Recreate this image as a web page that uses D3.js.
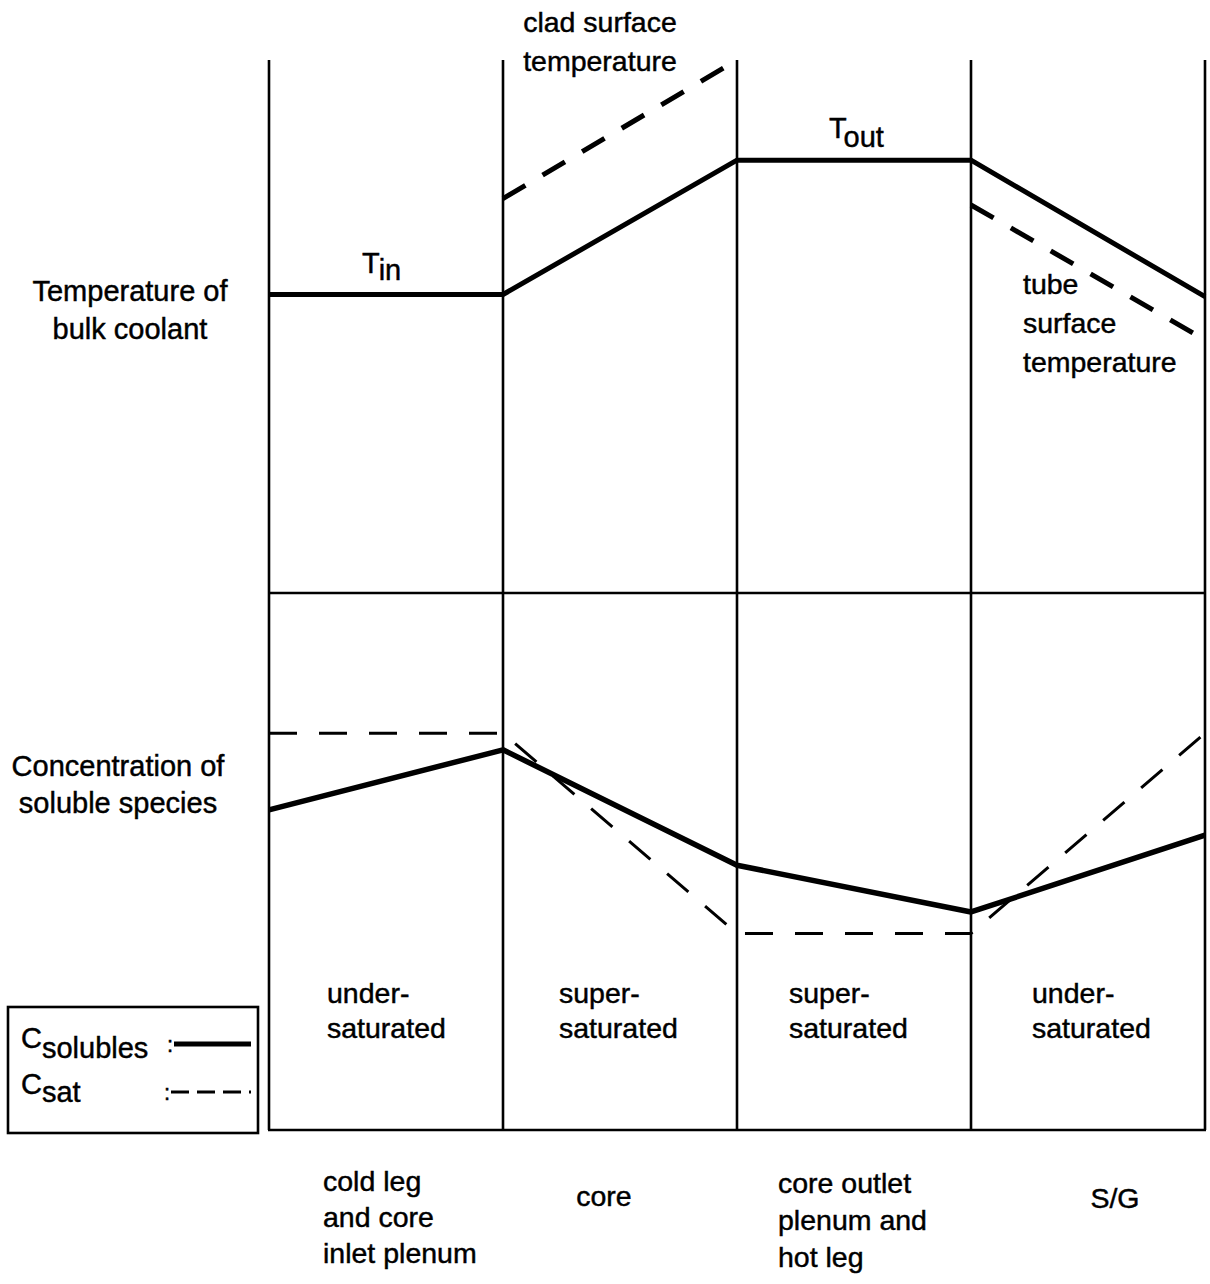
<!DOCTYPE html>
<html>
<head>
<meta charset="utf-8">
<script src="https://cdn.jsdelivr.net/npm/d3@7"></script>
<style>
  html, body { margin: 0; padding: 0; background: #fff; }
  svg text { font-family: "Liberation Sans", Arial, Helvetica, sans-serif; fill: #000; stroke: #000; stroke-width: 0.45px; }
</style>
</head>
<body>
<svg id="chart" width="1210" height="1284"></svg>
<script>
// Loop stations (boundaries between the four regions)
const stations = [0, 1, 2, 3, 4];
const regions = ["cold leg|and core|inlet plenum", "core", "core outlet|plenum and|hot leg", "S/G"];

// Upper panel: temperatures (relative units, 0-100)
const bulkTemp = [56, 56, 81.2, 81.2, 55.6];
const cladStations = [1, 2];
const cladTemp = [74, 100];
const tubeStations = [3, 4];
const tubeTemp = [72.8, 47.5];

// Lower panel: concentrations (relative units, 0-100)
const cSolubles = [59.6, 70.8, 49.3, 40.6, 54.9];
const cSat = [73.9, 73.9, 36.6, 36.6, 73.9];

const saturationState = ["under-|saturated", "super-|saturated", "super-|saturated", "under-|saturated"];

const svg = d3.select("#chart");

const x = d3.scaleLinear().domain([0, 4]).range([269, 1205]);
const yTemp = d3.scaleLinear().domain([0, 100]).range([593, 60]);
const yConc = d3.scaleLinear().domain([0, 100]).range([1130, 593]);

const frameTop = yTemp(100), frameMid = yTemp(0), frameBottom = yConc(0);
const FS = 28.5;

// Frame: region dividers and panel rules
const frame = svg.append("g").attr("stroke", "#000").attr("stroke-width", 2.6);
frame.selectAll("line.div").data(stations).join("line")
  .attr("class", "div")
  .attr("x1", d => x(d)).attr("x2", d => x(d))
  .attr("y1", frameTop).attr("y2", frameBottom);
frame.append("line").attr("x1", x(0)).attr("x2", x(4)).attr("y1", frameMid).attr("y2", frameMid);
frame.append("line").attr("x1", x(0) - 1).attr("x2", x(4) + 1).attr("y1", frameBottom).attr("y2", frameBottom);

const lineT = d3.line().x(d => x(d[0])).y(d => yTemp(d[1]));
const lineC = d3.line().x(d => x(d[0])).y(d => yConc(d[1]));

// Bulk coolant temperature
svg.append("path")
  .datum(stations.map((s, i) => [s, bulkTemp[i]]))
  .attr("d", lineT).attr("fill", "none").attr("stroke", "#000")
  .attr("stroke-width", 5).attr("stroke-linejoin", "round");

// Clad surface temperature (core)
svg.append("path")
  .datum(cladStations.map((s, i) => [s, cladTemp[i]]))
  .attr("d", lineT).attr("fill", "none").attr("stroke", "#000")
  .attr("stroke-width", 5).attr("stroke-dasharray", "26,20");

// Tube surface temperature (S/G)
svg.append("path")
  .datum(tubeStations.map((s, i) => [s, tubeTemp[i]]))
  .attr("d", lineT).attr("fill", "none").attr("stroke", "#000")
  .attr("stroke-width", 5).attr("stroke-dasharray", "26,20");

// Saturation concentration
svg.append("path")
  .datum(stations.map((s, i) => [s, cSat[i]]))
  .attr("d", lineC).attr("fill", "none").attr("stroke", "#000")
  .attr("stroke-width", 3).attr("stroke-dasharray", "28,22");

// Soluble species concentration
svg.append("path")
  .datum(stations.map((s, i) => [s, cSolubles[i]]))
  .attr("d", lineC).attr("fill", "none").attr("stroke", "#000")
  .attr("stroke-width", 5.5).attr("stroke-linejoin", "round");

// Multi-line text helper
function multiText(g, str, xPos, yPos, lh, anchor, size) {
  const t = g.append("text").attr("x", xPos).attr("y", yPos)
    .attr("text-anchor", anchor || "start").attr("font-size", size || FS);
  str.split("|").forEach((s, i) => {
    t.append("tspan").attr("x", xPos).attr("y", yPos + i * lh).text(s);
  });
  return t;
}

const labels = svg.append("g");

// Row titles
multiText(labels, "Temperature of|bulk coolant", 130, 301, 38, "middle", 29);
multiText(labels, "Concentration of|soluble species", 118, 776, 37, "middle", 29);

// Temperature annotations
multiText(labels, "clad surface|temperature", 600, 32, 39, "middle", FS);
multiText(labels, "tube|surface|temperature", 1023, 294, 39, "start", FS);

const tin = labels.append("text").attr("x", (x(0) + x(1)) / 2 - 24).attr("y", 273).attr("font-size", 29);
tin.append("tspan").text("T");
tin.append("tspan").attr("dy", 7).text("in");

const tout = labels.append("text").attr("x", (x(2) + x(3)) / 2 - 25).attr("y", 138).attr("font-size", 29);
tout.append("tspan").text("T");
tout.append("tspan").attr("dy", 9).text("out");

// Saturation state per region
const stateX = [327, 559, 789, 1032];
saturationState.forEach((s, i) => multiText(labels, s, stateX[i], 1003, 35, "start", FS));

// Region names under the frame
multiText(labels, regions[0], 323, 1191, 36, "start", FS);
multiText(labels, regions[1], 604, 1206, 36, "middle", FS);
multiText(labels, regions[2], 778, 1193, 37, "start", FS);
multiText(labels, regions[3], 1115, 1208, 36, "middle", FS);

// Legend
const lg = svg.append("g");
lg.append("rect").attr("x", 8).attr("y", 1007).attr("width", 250).attr("height", 126)
  .attr("fill", "none").attr("stroke", "#000").attr("stroke-width", 2.6);

const l1 = lg.append("text").attr("x", 21).attr("y", 1048).attr("font-size", 29);
l1.append("tspan").text("C");
l1.append("tspan").attr("dy", 10).text("solubles");
lg.append("text").attr("x", 167).attr("y", 1052).attr("font-size", 22).text(":");
lg.append("line").attr("x1", 174).attr("x2", 251).attr("y1", 1044).attr("y2", 1044)
  .attr("stroke", "#000").attr("stroke-width", 5);

const l2 = lg.append("text").attr("x", 21).attr("y", 1094).attr("font-size", 29);
l2.append("tspan").text("C");
l2.append("tspan").attr("dy", 8).text("sat");
lg.append("text").attr("x", 164).attr("y", 1100).attr("font-size", 22).text(":");
lg.append("line").attr("x1", 171).attr("x2", 251).attr("y1", 1092).attr("y2", 1092)
  .attr("stroke", "#000").attr("stroke-width", 3).attr("stroke-dasharray", "18,8");
</script>
</body>
</html>
